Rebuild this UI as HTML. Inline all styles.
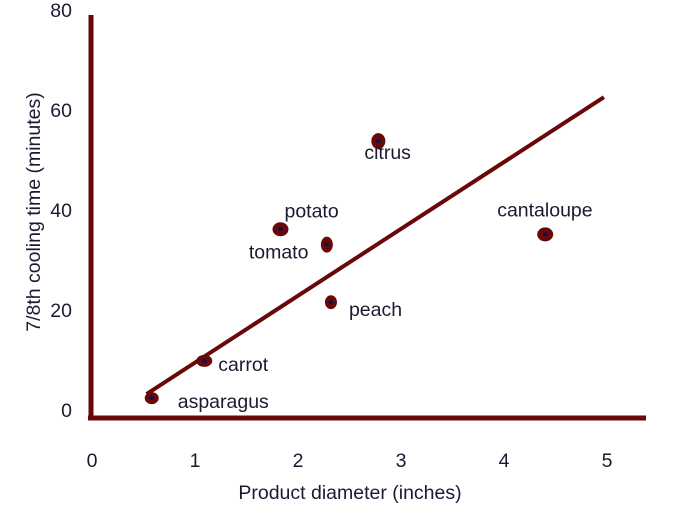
<!DOCTYPE html>
<html><head><meta charset="utf-8"><style>
body{margin:0;background:#fff}
svg text{font-family:"Liberation Sans",sans-serif;font-size:19.5px;fill:#1a1a33}
</style></head><body>
<svg id="c" width="694" height="512"></svg>
<script>
const xTicks=[0,1,2,3,4,5];
const yTicks=[0,20,40,60,80];
const names=["asparagus","carrot","potato","tomato","peach","citrus","cantaloupe"];
const diam=[0.58,1.09,1.83,2.28,2.32,2.78,4.4];
const cool=[3.9,11.2,37,34,22.7,54.3,36];
const rx=[7,8,8,6,6,7,8];
const ry=[6,6,7,8,7,8,7];
const labDx=[26,14,4,-78,18,-14,-48];
const labDy=[10,10,-12,14,14,18,-18];
const fitX=[0.53,4.97];
const fitY=[4.7,62.9];
const X=v=>92+v*103, Y=v=>418-v*5.1;
const s=document.getElementById('c'),NS='http://www.w3.org/2000/svg';
function mk(t,a,p){const e=document.createElementNS(NS,t);for(const k in a)e.setAttribute(k,a[k]);(p||s).appendChild(e);return e;}
let e;
e=mk('line',{x1:91,y1:15,x2:91,y2:420,stroke:'#6a0808','stroke-width':5});

e=mk('line',{x1:88,y1:418,x2:646,y2:418,stroke:'#6a0808','stroke-width':5});

xTicks.forEach(t=>{e=mk('text',{x:X(t),y:467,'text-anchor':'middle'});e.textContent=t;
});
yTicks.forEach(t=>{e=mk('text',{x:72,y:417-t*5,'text-anchor':'end'});e.textContent=t;
});
e=mk('text',{x:350,y:499,'text-anchor':'middle'});e.textContent='Product diameter (inches)';

e=mk('text',{x:40,y:212,'text-anchor':'middle',transform:'rotate(-90 40 212)'});e.textContent='7/8th cooling time (minutes)';

e=mk('line',{x1:X(fitX[0]),y1:Y(fitY[0]),x2:X(fitX[1]),y2:Y(fitY[1]),stroke:'#6a0808','stroke-width':4});

names.forEach((n,i)=>{const cx=X(diam[i]),cy=Y(cool[i]);
e=mk('ellipse',{cx,cy,rx:rx[i],ry:ry[i],fill:'#6a0808'});

mk('ellipse',{cx,cy,rx:2.5,ry:2,fill:'#10104a'});
e=mk('text',{x:cx+labDx[i],y:cy+labDy[i]});e.textContent=n;
});
</script>
</body></html>
